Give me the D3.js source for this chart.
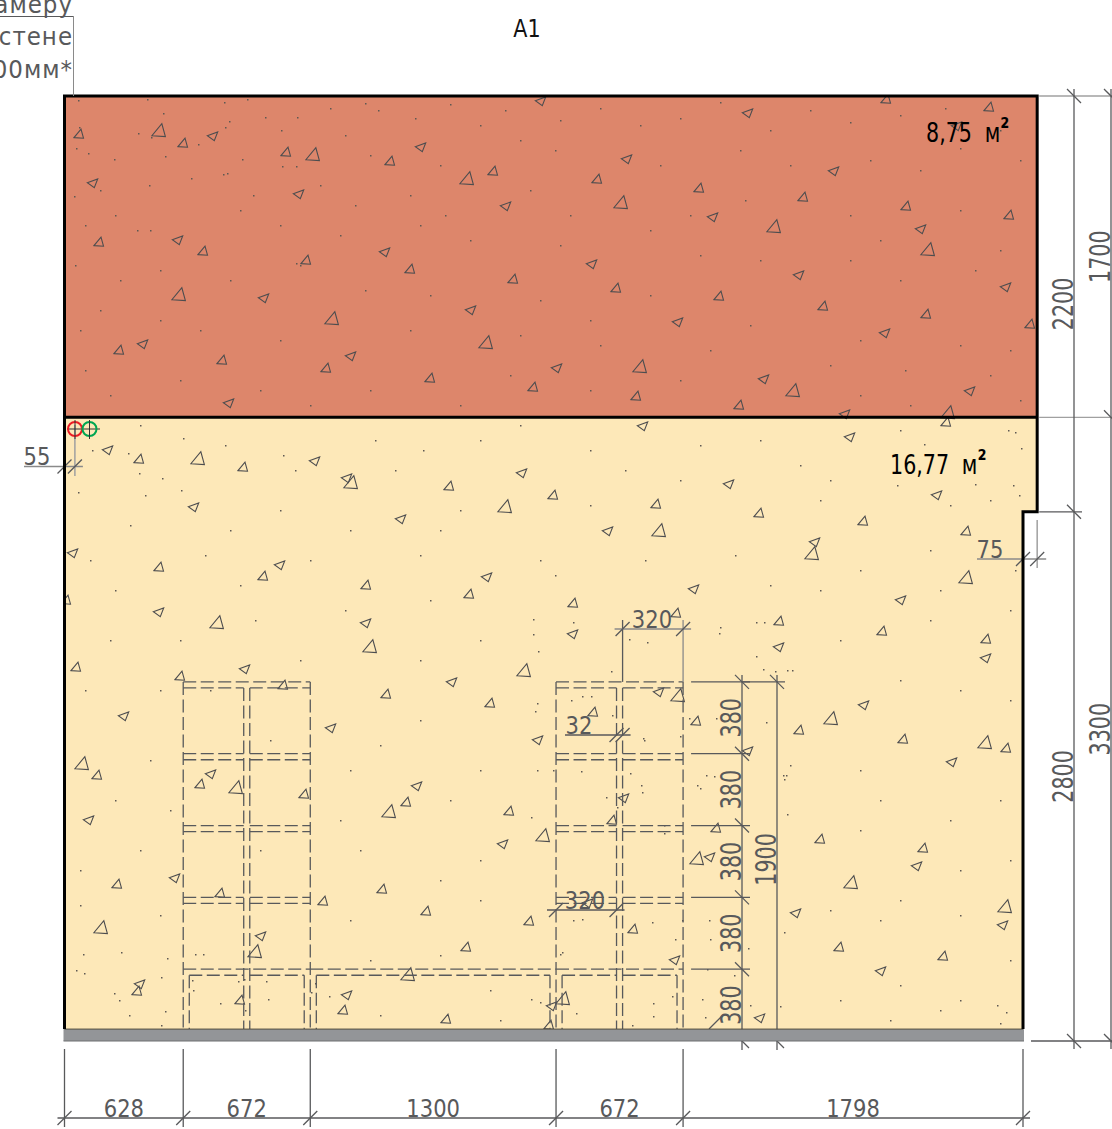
<!DOCTYPE html>
<html>
<head>
<meta charset="utf-8">
<script src="https://cdn.jsdelivr.net/npm/d3@7"></script>
<style>
  html, body { margin: 0; padding: 0; background: #fff; }
  svg { display: block; }
  text { font-family: "DejaVu Sans", sans-serif; font-stretch: condensed; }
</style>
</head>
<body>
<div id="chart"></div>
<script>
// plan sizes in mm
const planWidth = 5070;
const planHeight = 5000;
const notchWidth = 75;
const wallThickness = 55;
const floorDepth = 63;
const bottomChain = [628, 672, 1300, 672, 1798];
const rightChainOuter = [2200, 2800];
const rightChainInner = [1700, 3300];
const shelfRows = [380, 380, 380, 380, 380];
const shelfTotal = 1900;
const shelfBay = 320;
const shelfGap = 32;
const roomAreas = ["8,75", "16,77"];
const noteLines = ["камеру", "стене", "00мм*"];

// hatch, in sheet pixels
const triUpSmall = [[79,135],[183,144],[286,153],[390,162],[886,100],[989,108],[493,172],[597,180],[699,189],[803,198],[906,207],[1009,216],[99,243],[203,252],[306,261],[410,270],[513,280],[616,289],[719,297],[823,307],[926,315],[1030,325],[119,351],[222,361],[326,369],[430,379],[533,388],[636,397],[739,406],[139,460],[243,468],[449,487],[553,496],[656,505],[759,514],[863,522],[966,532],[946,423],[159,568],[263,577],[366,586],[469,595],[573,604],[676,614],[779,622],[882,632],[986,640],[66,601],[76,668],[180,677],[283,686],[386,695],[490,704],[593,713],[696,722],[799,731],[903,740],[1006,749],[97,776],[200,785],[304,795],[406,803],[509,812],[612,821],[716,829],[820,840],[923,849],[117,885],[220,894],[323,902],[382,890],[426,912],[529,922],[633,930],[466,948],[839,948],[943,957],[137,992],[240,1001],[343,1011],[446,1020],[549,1026]];
const triUpLarge = [[159,132],[313,156],[467,180],[621,204],[774,228],[928,251],[179,296],[332,320],[486,344],[640,368],[793,392],[948,414],[198,460],[351,484],[505,508],[659,532],[812,555],[966,579],[217,624],[370,648],[524,672],[678,697],[831,720],[985,744],[82,765],[236,789],[389,813],[543,837],[697,860],[851,884],[1005,908],[101,929],[255,953],[408,976],[563,1000]];
const triLeftSmall = [[213,136],[421,147],[541,101],[748,113],[957,126],[627,159],[834,171],[93,183],[299,194],[506,206],[713,217],[921,229],[178,240],[385,252],[592,264],[799,275],[1006,287],[264,298],[471,310],[678,322],[885,333],[143,344],[351,356],[557,368],[764,379],[970,391],[229,403],[845,414],[108,450],[315,461],[347,478],[522,473],[729,484],[937,495],[643,426],[850,437],[194,507],[401,519],[608,531],[815,542],[73,553],[280,565],[487,577],[694,589],[901,600],[159,612],[366,623],[573,634],[779,647],[986,658],[245,669],[452,682],[659,692],[864,705],[124,716],[331,728],[538,740],[748,751],[952,762],[211,774],[417,786],[624,798],[89,820],[503,844],[710,857],[917,866],[175,878],[588,903],[796,913],[1003,925],[261,936],[675,960],[881,971],[140,984],[347,995],[552,1006],[760,1018]];
const hatchDots = [[78,100],[147,99],[224,102],[247,99],[163,113],[229,121],[265,117],[297,117],[138,133],[225,127],[79,127],[151,137],[76,148],[88,153],[165,156],[114,159],[242,159],[198,144],[281,130],[282,166],[296,166],[191,178],[223,174],[227,173],[149,185],[100,190],[74,196],[253,195],[330,108],[365,103],[378,110],[415,118],[450,104],[480,125],[505,110],[560,120],[600,108],[640,125],[680,118],[720,102],[770,130],[810,110],[850,122],[900,115],[945,108],[1000,130],[1020,160],[960,148],[920,170],[870,160],[790,165],[740,150],[660,165],[555,150],[520,140],[440,165],[370,155],[345,135],[320,185],[355,205],[410,195],[445,215],[530,190],[570,215],[650,230],[690,215],[745,200],[850,215],[880,240],[960,210],[1000,250],[975,270],[900,280],[850,260],[760,260],[700,255],[560,245],[470,240],[420,225],[340,235],[280,225],[240,210],[150,230],[137,230],[115,215],[85,225],[75,265],[120,280],[160,270],[230,280],[300,265],[296,263],[365,290],[430,295],[540,300],[590,320],[650,295],[750,325],[860,340],[960,345],[1010,350],[990,375],[905,370],[830,365],[710,350],[600,345],[520,335],[410,330],[280,340],[200,330],[160,320],[100,310],[80,330],[85,370],[110,395],[180,380],[260,390],[310,405],[370,390],[460,405],[510,375],[590,390],[680,380],[860,395],[910,405],[1020,400],[140,425],[183,438],[92,450],[128,453],[139,473],[162,478],[78,492],[145,495],[181,490],[225,445],[283,455],[295,470],[375,440],[395,470],[423,450],[480,440],[520,425],[590,450],[625,470],[700,445],[760,440],[800,465],[830,480],[900,430],[1008,430],[1015,432],[1021,448],[924,444],[897,485],[975,484],[1013,485],[1019,495],[990,500],[950,505],[820,500],[680,480],[590,505],[460,510],[350,530],[280,510],[230,530],[130,525],[90,560],[115,590],[205,555],[240,585],[310,560],[420,555],[440,530],[540,560],[555,575],[645,560],[735,555],[860,570],[930,550],[1015,570],[940,590],[820,590],[770,585],[533,619],[533,634],[538,651],[573,622],[611,671],[629,639],[647,642],[720,627],[719,633],[756,622],[764,622],[756,656],[763,669],[775,671],[792,670],[787,670],[430,600],[345,610],[255,620],[180,640],[110,640],[85,690],[160,690],[210,690],[300,660],[420,660],[480,640],[840,640],[930,620],[1010,610],[900,680],[960,690],[1010,700],[860,770],[537,703],[535,711],[571,700],[582,696],[591,696],[612,715],[643,738],[644,740],[680,736],[689,718],[716,718],[766,722],[790,765],[786,775],[783,775],[784,779],[553,770],[581,771],[537,770],[630,773],[641,785],[642,792],[606,797],[617,807],[697,785],[700,788],[706,775],[714,776],[787,814],[531,817],[664,825],[664,833],[420,720],[380,745],[350,770],[270,740],[150,760],[115,800],[170,810],[340,820],[450,800],[480,770],[880,800],[950,820],[1000,800],[860,830],[960,870],[1010,860],[900,900],[830,910],[760,850],[480,860],[440,880],[360,850],[260,850],[140,850],[80,870],[80,905],[160,915],[350,920],[480,900],[573,920],[562,952],[582,919],[560,954],[652,922],[682,920],[675,939],[709,920],[710,939],[748,948],[784,932],[880,920],[960,915],[1010,960],[900,985],[840,1000],[531,999],[540,1002],[576,1013],[653,1016],[653,1003],[672,996],[702,999],[705,1017],[722,995],[780,1006],[750,1005],[734,975],[707,969],[632,1025],[83,954],[121,952],[167,958],[195,954],[203,954],[76,970],[84,973],[161,977],[114,993],[119,1000],[192,980],[129,1015],[165,1011],[161,1025],[193,990],[238,981],[266,981],[315,983],[268,999],[220,1003],[245,1010],[311,992],[329,996],[244,979],[370,960],[440,955],[490,990],[380,1015],[500,1020],[940,1010],[997,1005],[1006,1012],[1000,1023],[890,1020],[960,1000]];

// outlines of the two hatch triangles around their middle
const upShape = [[-5, 2.6], [4.5, 3.2], [2, -5.8]];
const leftShape = [[-5.7, -0.3], [4.7, -4], [1.3, 4.7]];

const width = 1112;
const height = 1129;
const lineColor = "#58595b";
const lightLine = "#a0a0a0";

const x = d3.scaleLinear().domain([0, planWidth]).range([64.5, 1023]);
const y = d3.scaleLinear().domain([0, planHeight]).range([96, 1041]);
const sheetX = d3.scaleIdentity();
const sheetY = d3.scaleIdentity();

const svg = d3
  .select("#chart")
  .append("svg")
  .attr("width", width)
  .attr("height", height);

const upperRoom = rightChainInner[0];
const stepY = rightChainOuter[0];
const floorY = planHeight - floorDepth;
const outline = d3.line().x((d) => x(d[0])).y((d) => y(d[1]));

const floorPts = [
  [0, upperRoom],
  [planWidth + notchWidth, upperRoom],
  [planWidth + notchWidth, stepY],
  [planWidth, stepY],
  [planWidth, floorY],
  [0, floorY],
];
const roofPts = [
  [0, 0],
  [planWidth + notchWidth, 0],
  [planWidth + notchWidth, upperRoom],
  [0, upperRoom],
];

svg.append("defs").append("clipPath").attr("id", "plan-clip")
  .append("path")
  .attr("d", outline(floorPts) + "Z" + outline(roofPts) + "Z");

svg.append("path").attr("d", outline(roofPts) + "Z").attr("fill", "#dd866b");
svg.append("path").attr("d", outline(floorPts) + "Z").attr("fill", "#fde8b8");

// hatch
const hatch = svg.append("g").attr("clip-path", "url(#plan-clip)");
hatch
  .selectAll("rect")
  .data(hatchDots)
  .enter()
  .append("rect")
  .attr("x", (d) => sheetX(d[0]))
  .attr("y", (d) => sheetY(d[1]))
  .attr("width", 1.5)
  .attr("height", 1.5)
  .attr("fill", "#5e5852");

function drawTriangles(list, shape, k) {
  const tri = d3.line();
  hatch
    .append("g")
    .selectAll("path")
    .data(list)
    .enter()
    .append("path")
    .attr("d", (d) => tri(shape.map((p) => [sheetX(d[0]) + p[0] * k, sheetY(d[1]) + p[1] * k])) + "Z")
    .attr("fill", "none")
    .attr("stroke", "#4d4d4f")
    .attr("stroke-width", 1.1);
}
drawTriangles(triUpSmall, upShape, 1);
drawTriangles(triUpLarge, upShape, 1.42);
drawTriangles(triLeftSmall, leftShape, 1);

// shelf frames, dashed
const dashes = svg.append("g")
  .attr("fill", "none")
  .attr("stroke", lineColor)
  .attr("stroke-width", 1.3)
  .attr("stroke-dasharray", "13 4.5");

function dashLine(x1, y1, x2, y2) {
  dashes.append("line")
    .attr("x1", x(x1)).attr("y1", y(y1))
    .attr("x2", x(x2)).attr("y2", y(y2));
}

const shelfTop = planHeight - shelfTotal;
const levels = d3.cumsum([0].concat(shelfRows.slice(0, 4))).map((d) => shelfTop + d);
const leftFrame = bottomChain[0];
const rightFrame = bottomChain[0] + bottomChain[1] + bottomChain[2];
const frameWidth = bottomChain[1];
const bottomLevel = levels[4] + shelfGap;

[leftFrame, rightFrame].forEach((f) => {
  const midA = f + shelfBay;
  const midB = midA + shelfGap;
  const end = f + frameWidth;
  dashLine(f, shelfTop, f, floorY);
  dashLine(end, shelfTop, end, floorY);
  dashLine(midA, shelfTop + shelfGap, midA, floorY);
  dashLine(midB, shelfTop + shelfGap, midB, floorY);
  dashLine(f + shelfGap, bottomLevel, f + shelfGap, floorY);
  dashLine(end - shelfGap, bottomLevel, end - shelfGap, floorY);
  levels.forEach((lv, i) => {
    if (i === 0 || i === 4) {
      dashLine(f, lv, end, lv);
    } else {
      dashLine(f, lv, midA, lv);
      dashLine(midB, lv, end, lv);
    }
    if (i < 4) {
      dashLine(f, lv + shelfGap, midA, lv + shelfGap);
      dashLine(midB, lv + shelfGap, end, lv + shelfGap);
    } else {
      dashLine(f + shelfGap, lv + shelfGap, midA, lv + shelfGap);
      dashLine(midB, lv + shelfGap, end - shelfGap, lv + shelfGap);
    }
  });
});
// plinth between the two frames
const plinthA = leftFrame + frameWidth;
dashLine(plinthA, levels[4], rightFrame, levels[4]);
dashLine(plinthA + shelfGap, bottomLevel, rightFrame - shelfGap, bottomLevel);
dashLine(plinthA + shelfGap, bottomLevel, plinthA + shelfGap, floorY);
dashLine(rightFrame - shelfGap, bottomLevel, rightFrame - shelfGap, floorY);

// dimensions
const dims = svg.append("g");

function seg(x1, y1, x2, y2, color, w) {
  dims.append("line")
    .attr("x1", x1).attr("y1", y1).attr("x2", x2).attr("y2", y2)
    .attr("stroke", color || lineColor)
    .attr("stroke-width", w || 1.3);
}

function label(px, py, txt, rotated) {
  dims.append("text")
    .attr("transform", `translate(${px},${py})` + (rotated ? " rotate(-90) scale(0.9,1.12)" : " scale(0.92,1)"))
    .attr("text-anchor", "middle")
    .attr("font-size", 25.5)
    .attr("fill", lineColor)
    .text(txt);
}

// tick on a horizontal dimension leans like "/", on a vertical one like "\"
function tickH(px, py) { seg(px - 7, py + 7, px + 7, py - 7); }
function tickV(px, py) { seg(px - 7, py - 7, px + 7, py + 7); }

// bottom chain
const bottomY = 1118;
const bottomStops = d3.cumsum([0].concat(bottomChain));
seg(x(0) - 7, bottomY, x(planWidth) + 7, bottomY);
bottomStops.forEach((d) => {
  seg(x(d), 1049, x(d), 1127);
  tickH(x(d), bottomY);
});
bottomChain.forEach((d, i) => {
  label((x(bottomStops[i]) + x(bottomStops[i + 1])) / 2, bottomY - 1, d);
});

// right chains
function rightChain(chain, px) {
  const stops = d3.cumsum([0].concat(chain));
  seg(px, y(0) - 7, px, y(planHeight) + 8);
  stops.forEach((d) => tickV(px, y(d)));
  chain.forEach((d, i) => {
    label(px - 1, (y(stops[i]) + y(stops[i + 1])) / 2, d, true);
  });
}
seg(x(planWidth + notchWidth) + 2, y(0), 1112, y(0), lightLine);
seg(x(planWidth + notchWidth) + 2, y(upperRoom), 1112, y(upperRoom), lightLine);
seg(x(planWidth + notchWidth) + 2, y(stepY), 1082, y(stepY));
seg(x(planWidth) + 8, y(planHeight), 1112, y(planHeight));
rightChain(rightChainOuter, 1074);
rightChain(rightChainInner, 1111);

// shelf heights
const rowStops = d3.cumsum([0].concat(shelfRows)).map((d) => shelfTop + d);
const rowX = 742;
const totalX = 777;
seg(rowX, y(shelfTop) - 7, rowX, 1050);
seg(totalX, y(shelfTop) - 7, totalX, 1050);
rowStops.slice(0, 5).forEach((d) => {
  seg(x(rightFrame + frameWidth) + 8, y(d), rowX + 8, y(d));
  tickV(rowX, y(d));
});
seg(rowX, y(shelfTop), totalX + 8, y(shelfTop), lineColor, 1.3);
tickV(totalX, y(shelfTop));
tickV(rowX, y(planHeight));
tickV(totalX, y(planHeight));
shelfRows.forEach((d, i) => {
  label(rowX - 1, (y(rowStops[i]) + y(rowStops[i + 1])) / 2, d, true);
});
label(totalX - 1, (y(shelfTop) + y(planHeight)) / 2 - 2, shelfTotal, true);
seg(709, 1029, 722, 1016);

// shelf widths
const topBayA = rightFrame + shelfBay + shelfGap;
const topBayB = rightFrame + frameWidth;
seg(x(topBayA), 620, x(topBayA), y(shelfTop));
seg(x(topBayB), 620, x(topBayB), y(shelfTop), "#8a8a8a");
seg(x(topBayA) - 8, 629, x(topBayB) + 8, 629, "#8a8a8a");
tickH(x(topBayA), 629);
tickH(x(topBayB), 629);
label(652, 628, shelfBay);

seg(565, 735, x(topBayA) + 8, 735);
tickH(x(topBayA - shelfGap), 735);
tickH(x(topBayA), 735);
label(579, 734, shelfGap);

seg(547, 910, x(rightFrame + shelfBay) + 8, 910);
tickH(x(rightFrame), 910);
tickH(x(rightFrame + shelfBay), 910);
label(585, 909, shelfBay);

// bottom wall
svg.append("rect")
  .attr("x", x(0) - 1)
  .attr("y", y(floorY))
  .attr("width", x(planWidth) - x(0) + 2)
  .attr("height", y(planHeight) - y(floorY))
  .attr("fill", "#939598");
svg.append("line")
  .attr("x1", x(0)).attr("x2", x(planWidth))
  .attr("y1", y(floorY)).attr("y2", y(floorY))
  .attr("stroke", "#4f4a3d").attr("stroke-width", 1);
svg.append("line")
  .attr("x1", x(0) - 1).attr("x2", x(planWidth) + 1)
  .attr("y1", y(planHeight)).attr("y2", y(planHeight))
  .attr("stroke", "#6d6e71").attr("stroke-width", 1);

// walls
const walls = svg.append("g")
  .attr("fill", "none")
  .attr("stroke", "#000")
  .attr("stroke-width", 3)
  .attr("stroke-linejoin", "miter");
walls.append("path").attr("d", outline([
  [0, floorY],
  [0, 0],
  [planWidth + notchWidth, 0],
  [planWidth + notchWidth, stepY],
  [planWidth, stepY],
  [planWidth, floorY],
]));
walls.append("path").attr("d", outline([[0, upperRoom], [planWidth + notchWidth, upperRoom]]));

// small dimensions at the wall
const ref55 = x(wallThickness);
seg(ref55, 425, ref55, 476, "#a0a0a0", 1.5);
seg(24, 466.5, ref55 + 8, 466.5, "#8a8a8a");
tickH(x(0), 466.5);
tickH(ref55, 466.5);
label(37, 465, wallThickness);

const ref75 = x(planWidth + notchWidth);
seg(ref75, 520, ref75, 568, "#a0a0a0", 1.5);
seg(977, 559, ref75 + 9, 559, "#8a8a8a");
tickH(x(planWidth), 559);
tickH(ref75, 559);
label(990, 558, notchWidth);

// origin marks
const originX = [75, 89.5];
const originColor = ["#ed1c24", "#00a651"];
const marks = svg.append("g");
marks.append("line").attr("x1", 67).attr("x2", 100).attr("y1", 429).attr("y2", 429)
  .attr("stroke", "#333").attr("stroke-width", 1);
originX.forEach((d, i) => {
  marks.append("circle").attr("cx", d).attr("cy", 429).attr("r", 7)
    .attr("fill", "none").attr("stroke", originColor[i]).attr("stroke-width", 2);
  marks.append("line").attr("x1", d).attr("x2", d).attr("y1", 420).attr("y2", 439)
    .attr("stroke", "#333").attr("stroke-width", 1);
});

// room areas
function areaLabel(px, py, value) {
  const t = svg.append("text")
    .attr("transform", `translate(${px},${py}) scale(0.85,1)`)
    .attr("font-size", 27)
    .attr("fill", "#000");
  t.append("tspan").text(value);
  t.append("tspan").attr("dx", 15).text("м");
  t.append("tspan").attr("font-size", 27).attr("dy", -5).attr("font-weight", "bold").text("²");
}
areaLabel(926, 142, roomAreas[0]);
areaLabel(890, 474, roomAreas[1]);

// title and cut off note
svg.append("text").attr("transform", "translate(527,37) scale(0.92,1)")
  .attr("text-anchor", "middle").attr("font-size", 25).attr("fill", "#111").text("A1");

const noteY = [13, 45, 78];
noteLines.forEach((d, i) => {
  svg.append("text").attr("x", 73).attr("y", noteY[i])
    .attr("text-anchor", "end").attr("font-size", 25.5).attr("letter-spacing", 1)
    .attr("fill", lineColor).text(d);
});
svg.append("line").attr("x1", 0).attr("x2", 74).attr("y1", 16.5).attr("y2", 16.5)
  .attr("stroke", lineColor).attr("stroke-width", 1.2);
svg.append("line").attr("x1", 73.5).attr("x2", 73.5).attr("y1", 16).attr("y2", 96)
  .attr("stroke", "#8a8a8a").attr("stroke-width", 1);
</script>
</body>
</html>
